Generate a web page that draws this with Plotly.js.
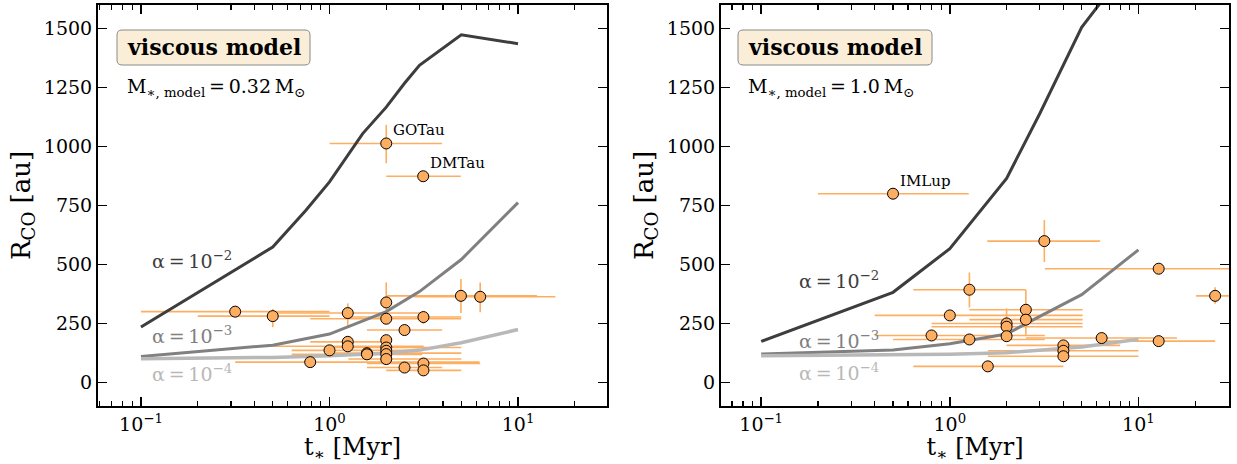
<!DOCTYPE html>
<html><head><meta charset="utf-8">
<script src="https://cdn.plot.ly/plotly-3.0.1.min.js"></script>
<style>html,body{margin:0;padding:0;background:#fff}</style>
</head><body><div id="chart" style="width:1237px;height:464px"></div>
<script>
// ---------------- data ----------------
// viscous model tracks, left panel (M* = 0.32 Msun)
const tModelL1 = [0.1, 0.5, 0.75, 1.0, 1.5, 2.0, 2.5, 3.0, 5.0, 10.0];
const rModelL1 = [235, 574, 730, 850, 1055, 1167, 1268, 1344, 1474, 1436]; // alpha=1e-2
const tModelL = [0.1, 0.5, 1, 2, 3, 5, 10];
const rModelL2 = [110, 158, 205, 300, 385, 521, 762];   // alpha=1e-3
const rModelL3 = [100, 106, 113, 124, 137, 168, 224];   // alpha=1e-4
// right panel (M* = 1.0 Msun)
const tModelR = [0.1, 0.5, 1, 2, 3, 5, 10];
const rModelR1 = [174, 382, 567, 865, 1140, 1505, 1820];
const rModelR2 = [120, 137, 164, 205, 280, 372, 562];
const rModelR3 = [113, 116, 119, 126, 135, 150, 183];

// observed discs, left panel
const nameObsL = ['GOTau','DMTau','','','','','','','','','','','','','','','','','','','','','','',''];
const tObsL  = [2.0, 3.14, 0.316, 0.5, 1.25, 2.0, 2.0, 3.15, 4.98, 6.3, 2.5, 1.25, 1.25, 1.0, 1.58, 1.58, 2.0, 2.0, 2.0, 2.0, 2.0, 0.79, 3.15, 2.5, 3.15];
const rObsL  = [1013, 874, 300, 281, 294, 339, 270, 277, 367, 363, 222, 172, 153, 136, 124, 119, 179, 148, 134, 120, 99, 86, 80, 63, 51];
const tLoL   = [1.0, 2.0, 0.1, 0.2, 0.5, 2.0, 0.79, 1.25, 2.0, 2.8, 1.58, 0.79, 0.5, 0.63, 1.0, 0.63, 2.0, 1.0, 2.0, 1.26, 1.26, 0.316, 1.58, 1.58, 2.0];
const tHiL   = [3.95, 4.97, 1.0, 1.0, 3.1, 2.0, 5.0, 5.0, 12.6, 15.8, 3.96, 2.0, 3.16, 3.1, 5.0, 3.1, 2.0, 5.0, 2.0, 3.1, 5.0, 6.25, 6.3, 3.96, 5.0];
const rLoL   = [929, 874, 300, 234, 240, 254, 270, 247, 294, 297, 222, 172, 153, 136, 124, 119, 179, 148, 134, 120, 99, 86, 80, 63, 51];
const rHiL   = [1092, 874, 300, 312, 335, 424, 270, 304, 438, 424, 222, 172, 153, 136, 124, 119, 179, 148, 134, 120, 99, 86, 80, 63, 51];

// observed discs, right panel
const nameObsR = ['IMLup','','','','','','','','','','','','','','','','','',''];
const tObsR  = [0.5, 3.17, 12.8, 25.5, 1.27, 1.0, 2.53, 2.53, 2.0, 2.0, 2.0, 0.8, 1.27, 6.38, 12.8, 4.0, 4.0, 4.0, 1.59];
const rObsR  = [800, 599, 482, 367, 393, 284, 308, 266, 250, 236, 196, 199, 182, 188, 175, 157, 134, 111, 68];
const tLoR   = [0.2, 1.58, 3.19, 20.2, 0.64, 0.4, 1.27, 1.27, 0.8, 0.8, 2.0, 0.4, 0.5, 2.53, 6.38, 2.0, 1.59, 1.59, 0.64];
const tHiR   = [1.26, 6.27, 35, 32, 2.53, 5.06, 5.06, 5.06, 5.06, 5.06, 2.0, 3.19, 3.19, 16, 25.5, 8.0, 10, 10, 4.0];
const rLoR   = [800, 510, 482, 333, 318, 284, 308, 200, 190, 236, 196, 199, 182, 188, 175, 157, 134, 111, 68];
const rHiR   = [800, 688, 482, 403, 466, 284, 308, 393, 314, 236, 196, 199, 182, 188, 175, 157, 134, 111, 68];

// axis ticks and texts
const xTickVals = [0.1, 1, 10];
const xTickText = ['10<sup>−1</sup>', '10<sup>0</sup>', '10<sup>1</sup>'];
const alphaLabels = ['α\u2009=\u200910<sup>−2</sup>', 'α\u2009=\u200910<sup>−3</sup>', 'α\u2009=\u200910<sup>−4</sup>'];
const massLabels = ['M<sub>∗, model</sub>\u2009=\u20090.32\u2009M<sub>⊙</sub>', 'M<sub>∗, model</sub>\u2009=\u20091.0\u2009M<sub>⊙</sub>'];

// ---------------- styling ----------------
const F = 'DejaVu Serif';
const W = 1237, H = 464;
const C1 = '#3d3d3d', C2 = '#808080', C3 = '#b8b8b8';
const ORANGE = '#fdae61';
const px = x => x / W, py = y => 1 - y / H;

function lineTrace(t, r, color, width, xa, ya) {
  return {x: t, y: r, type: 'scatter', mode: 'lines', line: {color, width}, xaxis: xa, yaxis: ya, hoverinfo: 'skip', showlegend: false};
}
function errTrace(t, r, tlo, thi, rlo, rhi, xa, ya) {
  return {
    x: t, y: r, type: 'scatter', mode: 'markers', xaxis: xa, yaxis: ya, showlegend: false, hoverinfo: 'skip',
    marker: {size: 11, color: 'rgba(0,0,0,0)', line: {width: 0}},
    error_x: {type: 'data', symmetric: false, array: thi.map((v, i) => v - t[i]), arrayminus: tlo.map((v, i) => t[i] - v), color: ORANGE, thickness: 1.6, width: 0},
    error_y: {type: 'data', symmetric: false, array: rhi.map((v, i) => v - r[i]), arrayminus: rlo.map((v, i) => r[i] - v), color: ORANGE, thickness: 1.6, width: 0}
  };
}
function markTrace(t, r, xa, ya) {
  return {x: t, y: r, type: 'scatter', mode: 'markers', xaxis: xa, yaxis: ya, showlegend: false,
    marker: {size: 11, color: ORANGE, line: {color: '#000', width: 1}}};
}

const traces = [
  errTrace(tObsL, rObsL, tLoL, tHiL, rLoL, rHiL, 'x', 'y'),
  lineTrace(tModelL1, rModelL1, C1, 3, 'x', 'y'),
  lineTrace(tModelL, rModelL2, C2, 3, 'x', 'y'),
  lineTrace(tModelL, rModelL3, C3, 3.5, 'x', 'y'),
  markTrace(tObsL, rObsL, 'x', 'y'),
  errTrace(tObsR, rObsR, tLoR, tHiR, rLoR, rHiR, 'x2', 'y2'),
  lineTrace(tModelR, rModelR1, C1, 3, 'x2', 'y2'),
  lineTrace(tModelR, rModelR2, C2, 3, 'x2', 'y2'),
  lineTrace(tModelR, rModelR3, C3, 3.5, 'x2', 'y2'),
  markTrace(tObsR, rObsR, 'x2', 'y2')
];

function xax(domain, range, anchor) {
  return {
    domain, range, anchor, type: 'log', tickmode: 'array', tickvals: xTickVals, ticktext: xTickText,
    ticks: 'inside', ticklen: 9, tickwidth: 1.5, tickcolor: '#000', mirror: 'allticks',
    showline: true, linewidth: 2, linecolor: '#000', showgrid: false, zeroline: false,
    tickfont: {family: F, size: 19, color: '#000'},
    title: {text: 't<sub>∗</sub> [Myr]', font: {family: F, size: 24, color: '#000'}, standoff: 4},
    minor: {dtick: 'D1', ticks: 'inside', ticklen: 5, tickwidth: 1.2, tickcolor: '#000', showgrid: false},
    fixedrange: true
  };
}
function yax(domain, anchor) {
  return {
    domain, anchor, range: [-100, 1600], tickmode: 'linear', tick0: 0, dtick: 250,
    ticks: 'inside', ticklen: 9, tickwidth: 1.5, tickcolor: '#000', mirror: 'allticks',
    showline: true, linewidth: 2, linecolor: '#000', showgrid: false, zeroline: false,
    tickfont: {family: F, size: 19, color: '#000'},
    title: {text: 'R<sub>CO</sub> [au]', font: {family: F, size: 26, color: '#000'}, standoff: 6},
    fixedrange: true
  };
}

// panel geometry (pixels)
const panels = [
  {box: [117, 310], alphaX: 150, alphaY: [260, 335, 373], massX: 125,
   names: nameObsL, t: tObsL, r: rObsL, xref: 'x', yref: 'y'},
  {box: [738, 932], alphaX: 797, alphaY: [280, 340, 372], massX: 746,
   names: nameObsR, t: tObsR, r: rObsR, xref: 'x2', yref: 'y2'}
];
const yTop = 5, yBot = 406;
const ydom = [py(yBot), py(yTop)];
const alphaColors = [C1, C2, C3];

const annotations = [], shapes = [];
panels.forEach((p, pi) => {
  const bx0 = p.box[0], bx1 = p.box[1], by0 = 30, by1 = 65, rr = 5;
  const path = `M ${px(bx0 + rr)},${py(by0)} L ${px(bx1 - rr)},${py(by0)} Q ${px(bx1)},${py(by0)} ${px(bx1)},${py(by0 + rr)} ` +
    `L ${px(bx1)},${py(by1 - rr)} Q ${px(bx1)},${py(by1)} ${px(bx1 - rr)},${py(by1)} L ${px(bx0 + rr)},${py(by1)} ` +
    `Q ${px(bx0)},${py(by1)} ${px(bx0)},${py(by1 - rr)} L ${px(bx0)},${py(by0 + rr)} Q ${px(bx0)},${py(by0)} ${px(bx0 + rr)},${py(by0)} Z`;
  shapes.push({type: 'path', xref: 'paper', yref: 'paper', path, fillcolor: '#faeed9', line: {color: '#8a8a8a', width: 1}, layer: 'above'});
  annotations.push({xref: 'paper', yref: 'paper', x: px((bx0 + bx1) / 2), y: py(47.5), xanchor: 'center', yanchor: 'middle',
    text: '<b>viscous model</b>', showarrow: false, font: {family: F, size: 22, color: '#000'}});
  annotations.push({xref: 'paper', yref: 'paper', x: px(p.massX), y: py(87), xanchor: 'left', yanchor: 'middle',
    text: massLabels[pi], showarrow: false, font: {family: F, size: 19, color: '#000'}});
  alphaLabels.forEach((txt, k) => {
    annotations.push({xref: 'paper', yref: 'paper', x: px(p.alphaX), y: py(p.alphaY[k]), xanchor: 'left', yanchor: 'middle',
      text: txt, showarrow: false, font: {family: F, size: 19, color: alphaColors[k]}});
  });
  p.names.forEach((nm, i) => {
    if (!nm) return;
    annotations.push({xref: p.xref, yref: p.yref, x: Math.log10(p.t[i]), y: p.r[i], xanchor: 'left', yanchor: 'middle',
      xshift: 5, yshift: 13, text: nm, showarrow: false, font: {family: F, size: 15, color: '#000'}});
  });
});

const layout = {
  width: W, height: H, margin: {l: 0, r: 0, t: 0, b: 0},
  paper_bgcolor: '#fff', plot_bgcolor: '#fff', showlegend: false,
  xaxis: xax([px(98), px(607)], [-1.228, 1.472], 'y'),
  yaxis: yax(ydom, 'x'),
  xaxis2: xax([px(721), px(1229)], [-1.213, 1.48], 'y2'),
  yaxis2: yax(ydom, 'x2'),
  annotations, shapes
};

Plotly.newPlot('chart', traces, layout, {displayModeBar: false, staticPlot: true});
</script></body></html>
